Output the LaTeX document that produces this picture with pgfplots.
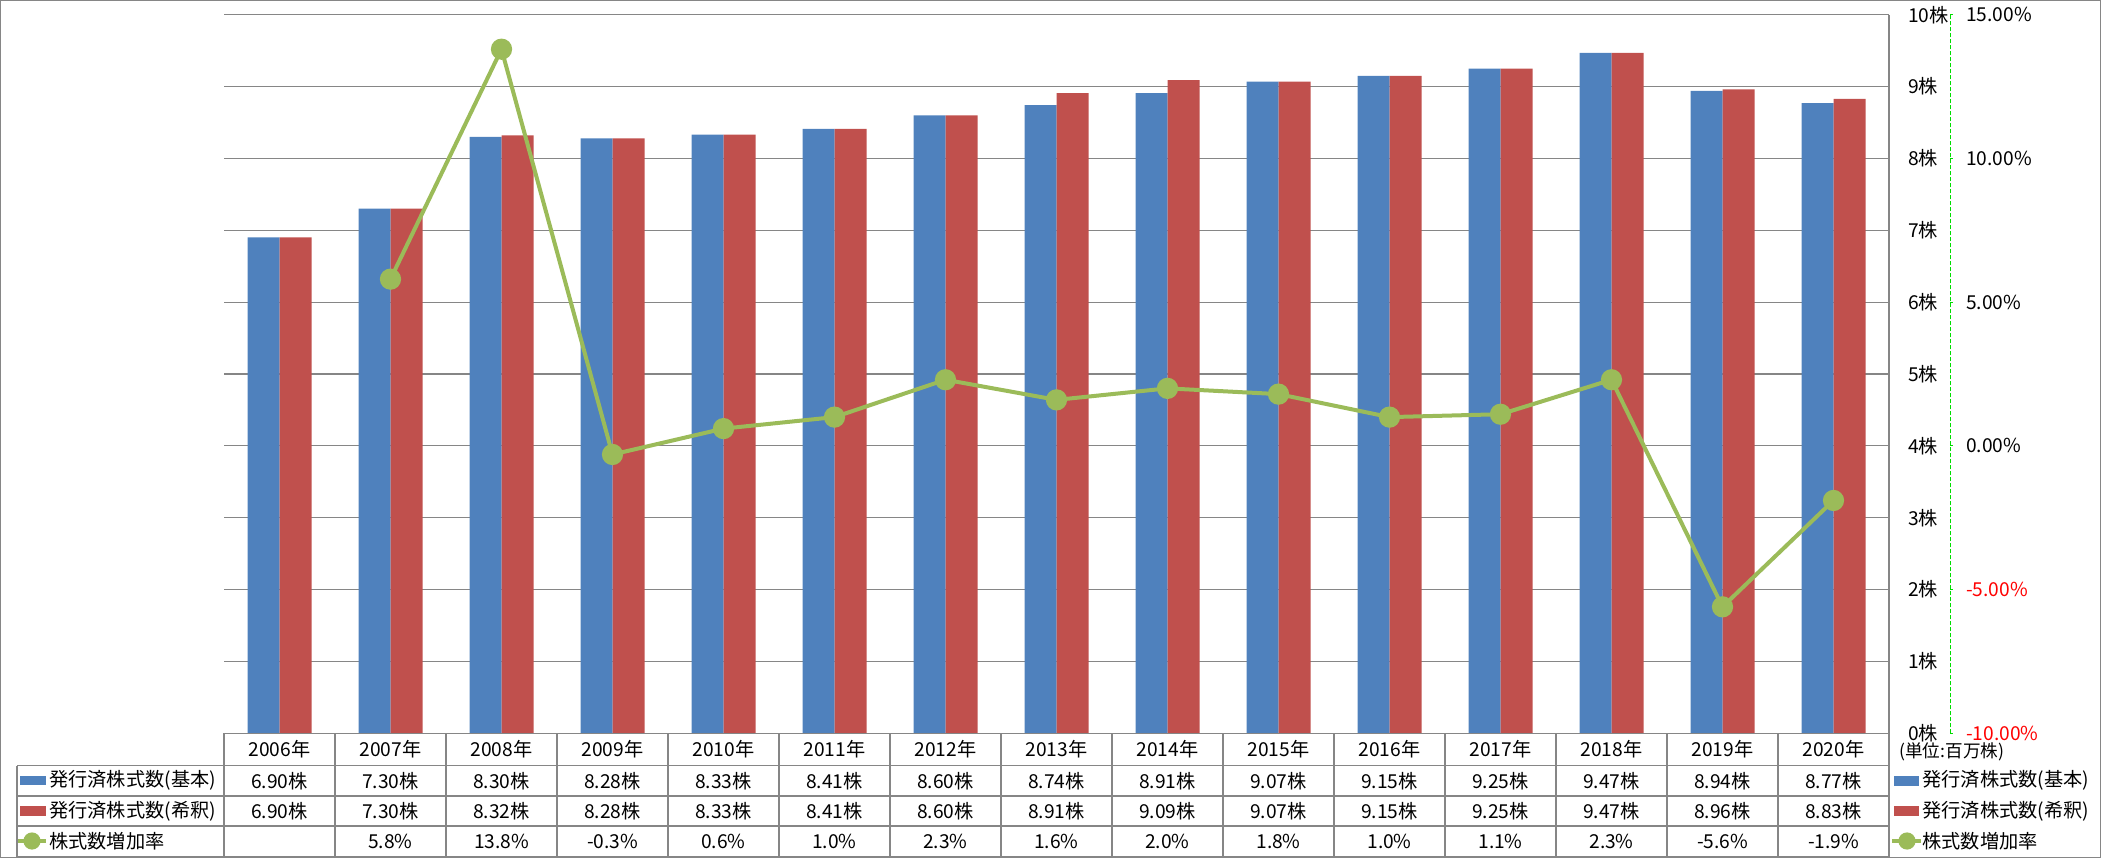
\documentclass[border=0pt]{standalone}
\usepackage{pgfplots}
\pgfplotsset{compat=1.18}
\usepackage{fontspec}
\setmainfont{Noto Sans CJK JP}
\definecolor{cBlue}{HTML}{4F81BD}
\definecolor{cRed}{HTML}{C0504D}
\definecolor{cGreen}{HTML}{9BBB59}
\definecolor{cGrid}{HTML}{868686}
\definecolor{cAxisTwo}{HTML}{00DD00}
\begin{document}
\begin{tikzpicture}[font=\fontsize{9.6}{11}\selectfont]
\path[use as bounding box] (0,0) rectangle (1050.5pt,429pt);
\draw[cGrid, line width=0.6pt] (0.3pt,0.3pt) rectangle (1050.2pt,428.7pt);

\begin{axis}[
  at={(112pt,62.35pt)}, anchor=south west,
  width=832.5pt, height=359.3pt, scale only axis,
  xmin=-0.5, xmax=14.5, ymin=0, ymax=10,
  hide x axis,
  axis y line*=right,
  y axis line style={cGrid, line width=0.6pt},
  ytick={0,1,2,3,4,5,6,7,8,9,10},
  yticklabels={0株,1株,2株,3株,4株,5株,6株,7株,8株,9株,10株},
  yticklabel style={font=\fontsize{9.6}{11}\selectfont, xshift=6pt},
  major tick length=0pt,
  ymajorgrids, grid style={cGrid, line width=0.6pt},
  ybar=0pt, bar width=16pt,
]
\addplot[fill=cBlue, draw=none] coordinates {
(0,6.90) (1,7.30) (2,8.30) (3,8.28) (4,8.33) (5,8.41) (6,8.60) (7,8.74)
(8,8.91) (9,9.07) (10,9.15) (11,9.25) (12,9.47) (13,8.94) (14,8.77)};
\addplot[fill=cRed, draw=none] coordinates {
(0,6.90) (1,7.30) (2,8.32) (3,8.28) (4,8.33) (5,8.41) (6,8.60) (7,8.91)
(8,9.09) (9,9.07) (10,9.15) (11,9.25) (12,9.47) (13,8.96) (14,8.83)};
\end{axis}

\begin{axis}[
  at={(112pt,62.35pt)}, anchor=south west,
  width=832.5pt, height=359.3pt, scale only axis,
  xmin=-0.5, xmax=14.5, ymin=-10, ymax=15,
  hide x axis, clip=false,
  axis y line*=right,
  y axis line style={draw=none},
  ytick={-10,-5,0,5,10,15},
  yticklabels={\textcolor{red}{-10.00\%},\textcolor{red}{-5.00\%},0.00\%,5.00\%,10.00\%,15.00\%},
  yticklabel style={font=\fontsize{9.6}{11}\selectfont, xshift=35pt},
  major tick length=0pt,
]
\draw[cAxisTwo, line width=0.5pt, dash pattern=on 2pt off 1pt] ([xshift=30.5pt]rel axis cs:1,0) -- ([xshift=30.5pt]rel axis cs:1,1);
\pgfplotsinvokeforeach{-10,-5,0,5,10,15}{
  \draw[cAxisTwo, line width=0.5pt] ([xshift=30.5pt]axis cs:14.5,#1) -- ([xshift=32pt]axis cs:14.5,#1);
}
\addplot[cGreen, line width=2pt, mark=*, mark size=4.3pt, mark options={fill=cGreen, draw=none}] coordinates {
(1,5.8) (2,13.8) (3,-0.3) (4,0.6) (5,1.0) (6,2.3) (7,1.6) (8,2.0)
(9,1.8) (10,1.0) (11,1.1) (12,2.3) (13,-5.6) (14,-1.9)};
\end{axis}

\begin{scope}[shift={(0,429pt)}, x=0.5pt, y=-0.5pt]
  % table grid
  \draw[cGrid, line width=0.6pt] (224,733.3) -- (1889,733.3);
  \foreach \yy in {765.5,796,826,856.7} {
    \draw[cGrid, line width=0.6pt] (17,\yy) -- (1889,\yy);
  }
  \foreach \k in {0,...,15} {
    \draw[cGrid, line width=0.6pt] ({224+111*\k},733.3) -- ({224+111*\k},856.7);
  }
  \draw[cGrid, line width=0.6pt] (17,765.5) -- (17,856.7);
  % header
  \foreach \k in {0,...,14} {
    \pgfmathtruncatemacro\yr{2006+\k}
    \node at ({279.5+111*\k},749.5) {{\yr}年};
  }
  \foreach \v [count=\k from 0] in {6.90,7.30,8.30,8.28,8.33,8.41,8.60,8.74,8.91,9.07,9.15,9.25,9.47,8.94,8.77} {
    \node at ({279.5+111*\k},780.7) {{\v}株};
  }
  \foreach \v [count=\k from 0] in {6.90,7.30,8.32,8.28,8.33,8.41,8.60,8.91,9.09,9.07,9.15,9.25,9.47,8.96,8.83} {
    \node at ({279.5+111*\k},811) {{\v}株};
  }
  \foreach \v [count=\k from 1] in {5.8,13.8,-0.3,0.6,1.0,2.3,1.6,2.0,1.8,1.0,1.1,2.3,-5.6,-1.9} {
    \node at ({279.5+111*\k},841.3) {{\v}\%};
  }
  % left legend
  \fill[cBlue] (20,775.7) rectangle (45.7,785.2);
  \node[anchor=west, inner sep=0pt] at (49,780.7) {発行済株式数(基本)};
  \fill[cRed] (20,806) rectangle (45.7,815.5);
  \node[anchor=west, inner sep=0pt] at (49,811) {発行済株式数(希釈)};
  \draw[cGreen, line width=2pt] (18,841) -- (46,841);
  \fill[cGreen] (32,841) circle (4.3pt);
  \node[anchor=west, inner sep=0pt] at (49,841.3) {株式数増加率};
  % right legend
  \node[anchor=west, inner sep=0pt, font=\fontsize{8.8}{10}\selectfont] at (1899,752) {(単位:百万株)};
  \fill[cBlue] (1894,775.7) rectangle (1919,785.7);
  \node[anchor=west, inner sep=0pt] at (1922,780.7) {発行済株式数(基本)};
  \fill[cRed] (1894,806) rectangle (1919,816);
  \node[anchor=west, inner sep=0pt] at (1922,811) {発行済株式数(希釈)};
  \draw[cGreen, line width=2pt] (1892,841) -- (1921,841);
  \fill[cGreen] (1907,841) circle (4.3pt);
  \node[anchor=west, inner sep=0pt] at (1922,841.3) {株式数増加率};
\end{scope}
\end{tikzpicture}
\end{document}
